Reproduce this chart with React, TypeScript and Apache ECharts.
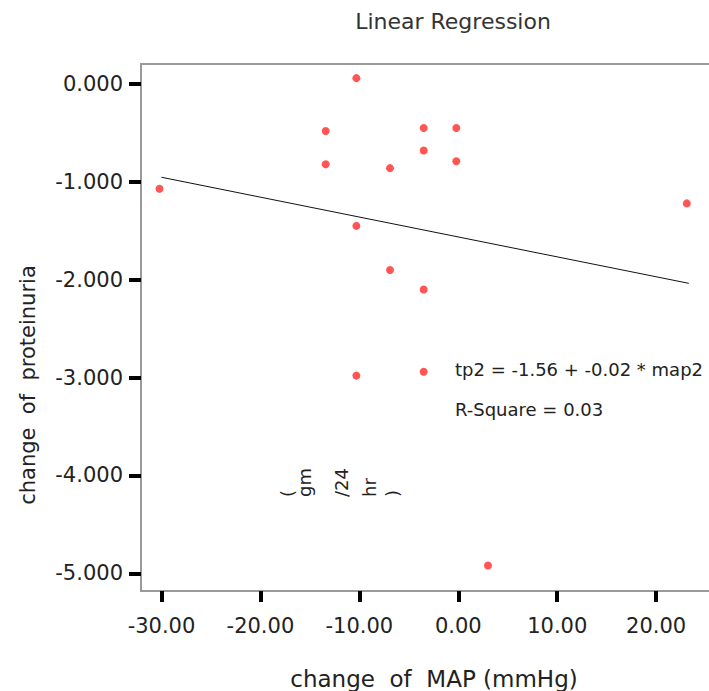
import React, { useEffect, useRef } from "react";
import * as echarts from "echarts";

// ---- data ----
const mapChange = [-30.2, -13.4, -13.4, -10.3, -10.3, -10.3, -6.9, -6.9, -3.5, -3.5, -3.5, -3.5, -0.2, -0.2, 3.0, 23.1];
const proteinuriaChange = [-1.07, -0.48, -0.82, 0.06, -1.45, -2.98, -0.86, -1.9, -0.45, -0.68, -2.1, -2.94, -0.45, -0.79, -4.92, -1.22];
const fitLineX = [-30.0, 23.3];
const fitLineY = [-0.953, -2.037];
const xTickValues = [-30, -20, -10, 0, 10, 20];
const yTickValues = [0, -1, -2, -3, -4, -5];
const titleText = "Linear Regression";
const xAxisTitle = "change  of  MAP (mmHg)";
const yAxisTitle = "change  of  proteinuria";
const equationText = "tp2 = -1.56 + -0.02 * map2";
const rSquareText = "R-Square = 0.03";
const unitPieces = ["(", "gm", "/24", "hr", ")"];

const FONT = "DejaVu Sans";
const FRAME = "#9a9a9a";

export default function App() {
  const ref = useRef<HTMLDivElement>(null);
  useEffect(() => {
    document.body.style.margin = "0";
    const chart = echarts.init(ref.current!, null, { renderer: "svg" });
    const points = mapChange.map((x, i) => [x, proteinuriaChange[i]]);
    const fit = fitLineX.map((x, i) => [x, fitLineY[i]]);
    const unitX = [287, 304, 341, 369, 392];
    chart.setOption({
      animation: false,
      backgroundColor: "#ffffff",
      grid: {
        left: 141,
        top: 64,
        right: -5,
        bottom: 100,
        show: false,
      },
      xAxis: {
        type: "value",
        min: -32.07,
        max: 25.34,
        axisLine: { show: true, onZero: false, lineStyle: { color: FRAME, width: 2 } },
        splitLine: { show: false },
        axisTick: {
          show: true,
          inside: false,
          length: 11,
          customValues: xTickValues,
          lineStyle: { color: "#000", width: 4 },
        },
        axisLabel: {
          customValues: xTickValues,
          margin: 24,
          fontFamily: FONT,
          fontSize: 21,
          color: "#222",
          formatter: (v: number) => v.toFixed(2),
        },
      },
      yAxis: {
        type: "value",
        min: -5.181,
        max: 0.2044,
        axisLine: { show: true, onZero: false, lineStyle: { color: FRAME, width: 2 } },
        splitLine: { show: false },
        axisTick: {
          show: true,
          inside: false,
          length: 12,
          customValues: yTickValues,
          lineStyle: { color: "#000", width: 4 },
        },
        axisLabel: {
          customValues: yTickValues,
          margin: 18,
          fontFamily: FONT,
          fontSize: 21,
          color: "#222",
          formatter: (v: number) => v.toFixed(3),
        },
      },
      series: [
        {
          type: "line",
          data: fit,
          symbol: "none",
          lineStyle: { color: "#111", width: 1 },
          z: 2,
        },
        {
          type: "scatter",
          data: points,
          symbol: "circle",
          symbolSize: 8,
          itemStyle: { color: "#ff2a2a" },
          z: 3,
        },
      ],
      graphic: [
        {
          type: "line",
          shape: { x1: 140, y1: 64, x2: 709, y2: 64 },
          style: { stroke: FRAME, lineWidth: 2 },
        },
        {
          type: "text",
          x: 453,
          y: 21,
          style: {
            text: titleText,
            fontFamily: FONT,
            fontSize: 22,
            fill: "#333",
            align: "center",
            verticalAlign: "middle",
          },
        },
        {
          type: "text",
          x: 28,
          y: 385,
          rotation: Math.PI / 2,
          style: {
            text: yAxisTitle,
            fontFamily: FONT,
            fontSize: 21,
            fill: "#222",
            align: "center",
            verticalAlign: "middle",
          },
        },
        {
          type: "text",
          x: 434,
          y: 679,
          style: {
            text: xAxisTitle,
            fontFamily: FONT,
            fontSize: 23,
            fill: "#222",
            align: "center",
            verticalAlign: "middle",
          },
        },
        {
          type: "text",
          x: 455,
          y: 369.5,
          style: {
            text: equationText,
            fontFamily: FONT,
            fontSize: 18,
            fill: "#222",
            align: "left",
            verticalAlign: "middle",
          },
        },
        {
          type: "text",
          x: 455,
          y: 409.5,
          style: {
            text: rSquareText,
            fontFamily: FONT,
            fontSize: 18,
            fill: "#222",
            align: "left",
            verticalAlign: "middle",
          },
        },
        ...unitPieces.map((t, i) => ({
          type: "text",
          x: unitX[i],
          y: 497,
          rotation: Math.PI / 2,
          style: {
            text: t,
            fontFamily: FONT,
            fontSize: 18,
            fill: "#222",
            align: "left",
            verticalAlign: "middle",
          },
        })),
      ],
    });
    return () => chart.dispose();
  }, []);
  return (
    <div
      ref={ref}
      style={{ position: "fixed", left: 0, top: 0, width: 709, height: 691 }}
    />
  );
}
